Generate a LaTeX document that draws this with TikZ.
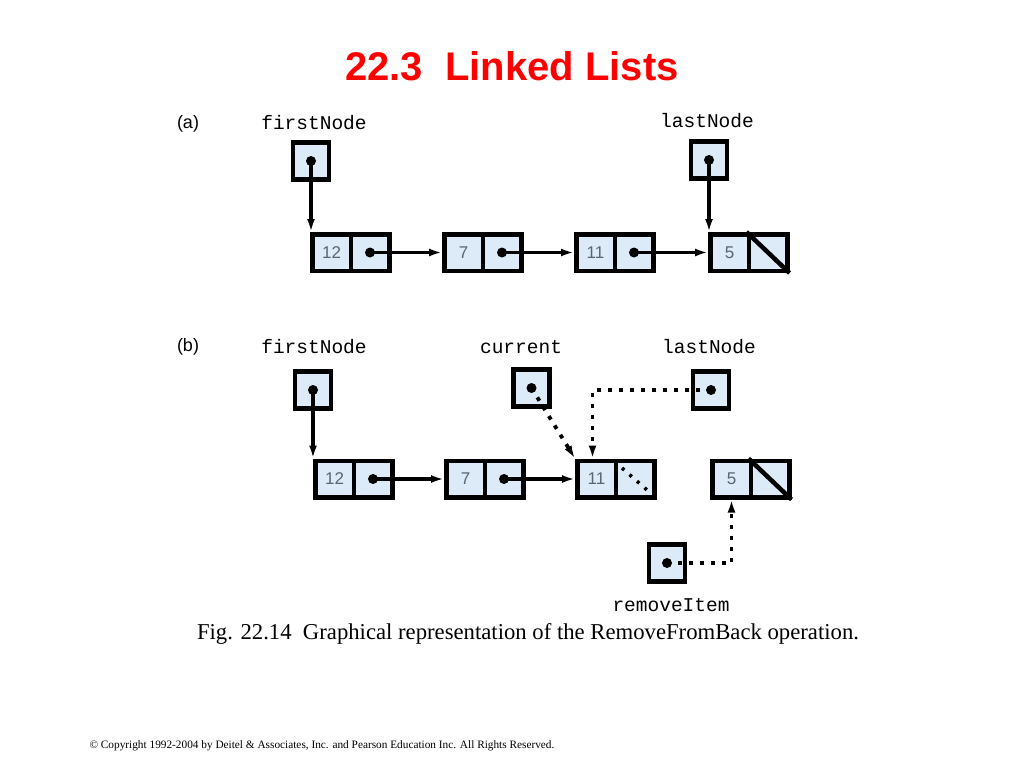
\documentclass[tikz,border=0pt]{standalone}
\usepackage{fontspec}
\setmainfont{Liberation Serif}
\setsansfont{Liberation Sans}
\setmonofont{Liberation Mono}
\usetikzlibrary{arrows.meta}
\definecolor{cellblue}{HTML}{DCEBF7}
\definecolor{valgray}{HTML}{5A6472}
\definecolor{titlered}{HTML}{FF0000}
\begin{document}
\begin{tikzpicture}[x=1pt,y=-1pt,
  cell/.style={draw=black, fill=cellblue, line width=4.5pt, minimum width=38.5pt,
    minimum height=36.5pt, inner sep=0pt, text=valgray,
    font=\sffamily\fontsize{17}{17}\selectfont},
  ptrbox/.style={draw=black, fill=cellblue, line width=4.5pt, minimum width=36pt,
    minimum height=37pt, inner sep=0pt},
  blob/.style={circle, fill=black, minimum size=10pt, inner sep=0pt},
  ptr/.style={line width=3.8pt, -{Latex[length=13pt,width=8pt]}},
  dptr/.style={line width=3.8pt, dash pattern=on 4pt off 7pt, -{Latex[length=13pt,width=8pt]}},
  lbl/.style={font=\ttfamily\fontsize{19.5}{20}\selectfont},
  part/.style={font=\sffamily\fontsize{18}{18}\selectfont}]
\useasboundingbox (0,0) rectangle (1024,768);
\fill[white] (0,0) rectangle (1024,768);

% title
\node[font=\sffamily\bfseries\fontsize{40}{44}\selectfont, text=titlered] (title) at (512,66) {22.3\ \ Linked Lists};

% ---------------- (a) ----------------
\node[part] (pa) at (188,124) {(a)};
\node[lbl] (lafirst) at (314,123) {firstNode};
\node[lbl] (lalast) at (707,121) {lastNode};

\node[ptrbox] (af) at (311,161) {};
\node[blob] (afd) at (af.center) {};
\node[ptrbox] (al) at (709,160) {};
\node[blob] (ald) at (al.center) {};

\node[cell] (a1v) at (331.5,252.5) {12};
\node[cell] (a1p) at (370,252.5) {};
\node[cell] (a2v) at (463.5,252.5) {7};
\node[cell] (a2p) at (502,252.5) {};
\node[cell] (a3v) at (595.5,252.5) {11};
\node[cell] (a3p) at (634,252.5) {};
\node[cell] (a4v) at (729.5,252.5) {5};
\node[cell] (a4p) at (768,252.5) {};
\node[blob] (a1d) at (a1p.center) {};
\node[blob] (a2d) at (a2p.center) {};
\node[blob] (a3d) at (a3p.center) {};
\draw[line width=4.5pt] (a4p.north west) -- (a4p.south east);

\draw[ptr] (afd.center) -- (afd.center |- a1v.north);
\draw[ptr] (ald.center) -- (ald.center |- a4v.north);
\draw[ptr] (a1d.center) -- (a2v.west);
\draw[ptr] (a2d.center) -- (a3v.west);
\draw[ptr] (a3d.center) -- (a4v.west);

% ---------------- (b) ----------------
\node[part] (pb) at (188,347) {(b)};
\node[lbl] (lbfirst) at (314,347) {firstNode};
\node[lbl] (lbcur) at (521,347) {current};
\node[lbl] (lblast) at (709,347) {lastNode};
\node[lbl] (lbrem) at (671,605) {removeItem};

\node[ptrbox] (bf) at (313,390) {};
\node[blob] (bfd) at (bf.center) {};
\node[ptrbox] (bc) at (531.5,388) {};
\node[blob] (bcd) at (bc.center) {};
\node[ptrbox] (bl) at (711,390) {};
\node[blob] (bld) at (bl.center) {};
\node[ptrbox] (br) at (667,563) {};
\node[blob] (brd) at (br.center) {};

\node[cell] (b1v) at (334.5,479) {12};
\node[cell] (b1p) at (373,479) {};
\node[cell] (b2v) at (465.5,479) {7};
\node[cell] (b2p) at (504,479) {};
\node[cell] (b3v) at (596.5,479) {11};
\node[cell] (b3p) at (635,479) {};
\node[cell] (b4v) at (731.5,479) {5};
\node[cell] (b4p) at (770,479) {};
\node[blob] (b1d) at (b1p.center) {};
\node[blob] (b2d) at (b2p.center) {};
\draw[line width=4.5pt] (b4p.north west) -- (b4p.south east);
\draw[line width=3.5pt, dash pattern=on 3pt off 7pt]
  ([shift={(-13,-11)}]b3p.center) -- ([shift={(12,11)}]b3p.center);

\draw[ptr] (bfd.center) -- (bfd.center |- b1v.north);
\draw[ptr] (b1d.center) -- (b2v.west);
\draw[ptr] (b2d.center) -- (b3v.west);
\draw[dptr] (bcd.center) -- (b3v.north west);
\draw[dptr] (bld.center) -| ([xshift=-4pt]b3v.north);
\draw[dptr] (brd.center) -| (b4v.south);

% caption
\node[font=\fontsize{22.7}{26}\selectfont] (cap) at (528,634)
  {Fig. 22.14\ \ Graphical representation of the RemoveFromBack operation.};
\node[font=\fontsize{11.3}{13}\selectfont, anchor=west] (copy) at (86,746)
  {© Copyright 1992-2004 by Deitel \& Associates, Inc. and Pearson Education Inc. All Rights Reserved.};
\end{tikzpicture}
\end{document}
